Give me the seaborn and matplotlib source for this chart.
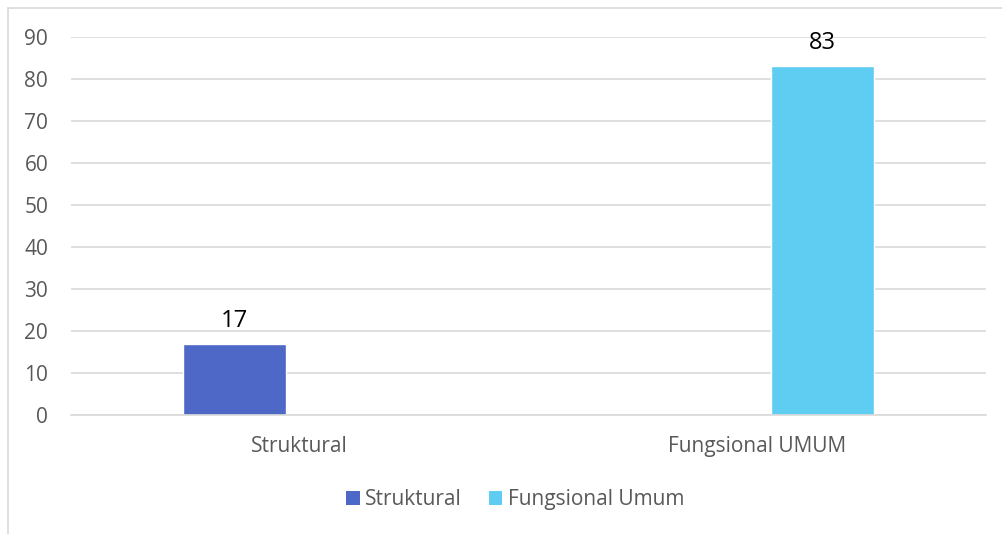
"""
bar chart: struktural vs fungsional umum
"""

import matplotlib.pyplot as plt
import pandas as pd
import seaborn as sns
from matplotlib.lines import Line2D

# data
categories = ["Struktural", "Fungsional UMUM"]
series = ["Struktural", "Fungsional Umum"]
values = [17, 83]
colors = ["#4E68C8", "#5FCCF2"]

chartData = pd.DataFrame({"kategori": categories, "seri": series, "nilai": values})

# style
sns.set_style("white")
plt.rcParams["font.family"] = ["Open Sans", "DejaVu Sans"]
grey = "#595959"

# plot
fig = plt.figure(figsize=(10.02, 5.34), dpi=100)
ax = fig.add_axes([0.0709, 0.2228, 0.9131, 0.7079])
sns.barplot(
    data=chartData,
    x="kategori",
    y="nilai",
    hue="seri",
    order=categories,
    hue_order=series,
    palette=colors,
    dodge=True,
    width=0.573,
    gap=0.215,
    saturation=1,
    ax=ax,
    legend=False,
)
for container in ax.containers:
    ax.bar_label(container, fontsize=17, color="black", padding=8)

ax.set_ylim(0, 90)
ax.set_yticks(range(0, 91, 10))
ax.set_xlim(-0.5, 1.5)
ax.set_xlabel("")
ax.set_ylabel("")
ax.yaxis.grid(True, color="#D9D9D9", linewidth=1.2)
ax.set_axisbelow(True)
sns.despine(ax=ax, left=True, top=True, right=True)
ax.spines["bottom"].set_color("#D9D9D9")
ax.spines["bottom"].set_linewidth(1.2)
ax.tick_params(axis="both", length=0, labelsize=15, colors=grey)
ax.tick_params(axis="x", pad=15)
ax.tick_params(axis="y", pad=16.5)

# legend
handles = [
    plt.Rectangle((0, 0), 1, 1, facecolor=c, edgecolor="none") for c in colors
]
fig.legend(
    handles,
    series,
    loc="center",
    bbox_to_anchor=(0.514, 0.064),
    ncol=2,
    frameon=False,
    fontsize=15,
    labelcolor=grey,
    handlelength=0.65,
    handleheight=0.65,
    handletextpad=0.25,
    columnspacing=1.3,
)

# chart border (left and top edges)
fig.add_artist(Line2D([0.0075, 0.0075], [0, 0.985], color="#D9D9D9", lw=1.2))
fig.add_artist(Line2D([0.0075, 1], [0.985, 0.985], color="#D9D9D9", lw=1.2))

fig.savefig("out.png", dpi=100)
